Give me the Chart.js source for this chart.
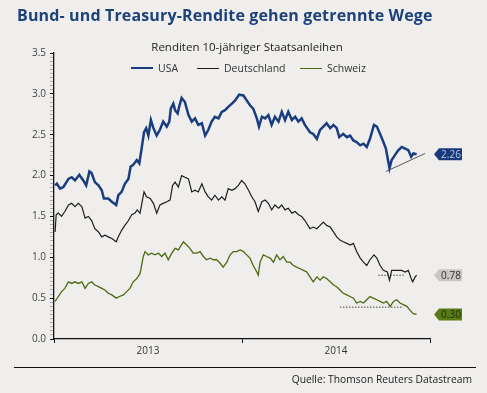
<!DOCTYPE html>
<html><head><meta charset="utf-8">
<script src="https://cdn.jsdelivr.net/npm/chart.js@4/dist/chart.umd.min.js"></script>
<style>
html,body{margin:0;padding:0;background:#efeeec;}
#wrap{position:relative;width:487px;height:393px;overflow:hidden;font-family:"Open Sans",sans-serif;}
canvas{position:absolute;left:0;top:0;}
#head{position:absolute;left:17px;top:4px;font-weight:bold;font-size:16px;letter-spacing:0.15px;color:#1d4179;white-space:nowrap;}
#sub{position:absolute;left:0;width:494px;text-align:center;top:39px;font-size:11.5px;color:#222;}
.lg{position:absolute;top:61px;font-size:10.5px;color:#333;display:flex;align-items:center;white-space:nowrap;}
.sw{display:inline-block;width:22px;margin-right:5px;}
#rule{position:absolute;left:14px;width:462px;top:367px;height:0;border-top:1.5px solid #111;}
#src{position:absolute;right:15px;top:372px;font-size:10.3px;color:#222;white-space:nowrap;}
</style></head>
<body>
<div id="wrap">
<canvas id="c" width="487" height="393"></canvas>
<div id="head">Bund- und Treasury-Rendite gehen getrennte Wege</div>
<div id="sub">Renditen 10-jähriger Staatsanleihen</div>
<div id="legend"></div>
<div id="rule"></div>
<div id="src">Quelle: Thomson Reuters Datastream</div>
</div>
<script>
// x values: weeks since 1 Jan 2013
const xTickWeeks = [0, 26, 52, 78, 104];
const xTickLabels = ['', '2013', '', '2014', ''];
const yTickValues = [0, 0.5, 1.0, 1.5, 2.0, 2.5, 3.0, 3.5];
const yMinorStep = 0.05;

const seriesNames = ['USA', 'Deutschland', 'Schweiz'];

const usaWeeks = [0.3,0.8,1.7,2.6,4.0,4.9,5.8,7.0,8.1,8.9,
9.8,10.4,11.3,12.3,13.2,13.8,15.0,16.0,17.2,17.8,
18.7,19.6,20.6,21.2,21.9,22.9,23.6,24.3,24.9,25.5,
26.1,26.8,27.5,28.4,29.3,30.2,31.2,31.9,32.3,33.0,
33.5,34.2,34.6,35.3,36.2,37.2,38.1,39.0,39.9,40.9,
41.8,42.7,43.6,44.5,45.5,46.4,47.3,48.2,49.2,50.1,
51.2,52.4,53.3,54.2,55.1,56.1,56.7,57.5,58.4,59.3,
60.2,61.1,62.1,63.0,63.9,64.8,65.8,66.7,67.6,68.5,
69.4,70.8,71.7,72.7,73.6,74.5,75.4,76.4,77.3,78.2,
78.9,80.0,81.0,81.9,82.8,83.7,84.7,85.6,86.5,87.4,
88.5,89.3,90.2,91.1,91.8,92.3,92.8,93.4,94.3,95.2,
96.2,97.1,98.0,98.8,99.4,100.3];
const usaYield = [1.88,1.90,1.84,1.86,1.96,1.98,1.94,2.01,1.94,1.88,
2.05,2.03,1.92,1.88,1.82,1.72,1.72,1.68,1.64,1.76,
1.80,1.90,1.96,2.11,2.13,2.19,2.15,2.35,2.53,2.58,
2.49,2.68,2.58,2.49,2.56,2.66,2.60,2.66,2.82,2.88,
2.80,2.76,2.84,2.95,2.90,2.74,2.66,2.70,2.62,2.64,
2.49,2.56,2.66,2.72,2.70,2.78,2.80,2.84,2.88,2.92,
2.99,2.98,2.92,2.86,2.82,2.70,2.60,2.72,2.70,2.74,
2.62,2.72,2.66,2.78,2.68,2.78,2.68,2.72,2.66,2.70,
2.62,2.53,2.51,2.45,2.56,2.60,2.64,2.58,2.62,2.58,
2.47,2.51,2.47,2.49,2.43,2.41,2.37,2.39,2.35,2.45,
2.62,2.60,2.51,2.41,2.33,2.21,2.09,2.19,2.25,2.31,
2.35,2.33,2.31,2.23,2.27,2.26];

const deWeeks = [0.3,0.6,1.2,2.1,3.0,4.0,4.9,5.8,6.7,7.7,
8.6,9.5,10.4,11.3,12.3,13.2,14.1,15.0,16.0,17.2,
17.8,18.7,19.6,20.6,21.5,22.4,23.0,23.8,24.9,25.6,
26.6,27.5,28.4,29.3,30.2,31.2,32.1,32.8,33.5,34.4,
35.3,36.2,37.2,38.1,39.0,39.9,40.9,41.8,42.7,43.6,
44.5,45.5,46.4,47.3,48.2,49.2,50.1,51.0,51.9,52.8,
53.8,54.7,55.6,56.5,57.5,58.4,59.3,60.2,61.1,62.1,
63.0,63.9,64.8,65.8,66.7,67.6,68.5,69.4,70.8,71.7,
72.7,73.6,74.5,75.4,76.4,77.3,78.2,79.1,80.0,81.0,
81.9,82.8,83.7,84.7,85.6,86.5,87.4,88.5,89.3,90.2,
91.1,92.2,92.8,93.4,94.3,95.2,96.2,97.1,98.0,98.8,
99.2,99.9,100.3];
const deYield = [1.31,1.52,1.54,1.50,1.56,1.64,1.66,1.62,1.66,1.62,
1.48,1.50,1.45,1.35,1.31,1.25,1.27,1.25,1.23,1.19,
1.25,1.33,1.39,1.45,1.52,1.54,1.58,1.54,1.80,1.74,
1.72,1.66,1.54,1.64,1.66,1.68,1.70,1.88,1.92,1.86,
2.00,1.98,1.96,1.80,1.82,1.80,1.90,1.80,1.74,1.70,
1.76,1.70,1.74,1.70,1.84,1.82,1.84,1.88,1.94,1.90,
1.82,1.74,1.68,1.56,1.68,1.70,1.66,1.58,1.64,1.60,
1.64,1.58,1.60,1.54,1.56,1.52,1.50,1.45,1.35,1.37,
1.35,1.39,1.43,1.39,1.37,1.31,1.25,1.21,1.19,1.17,
1.15,1.17,1.07,0.99,0.94,0.90,0.97,1.03,0.99,0.90,
0.84,0.82,0.72,0.84,0.84,0.84,0.84,0.82,0.84,0.74,
0.70,0.76,0.78];

const chWeeks = [0.3,1.2,2.1,3.0,4.0,4.9,5.8,6.7,7.7,8.6,
9.5,10.4,11.3,12.3,13.2,14.1,15.0,16.0,17.2,18.1,
19.2,20.1,21.0,21.9,22.9,23.8,24.7,25.2,26.1,27.0,
27.9,28.9,29.8,30.7,31.6,32.6,33.5,34.4,35.8,36.7,
37.6,38.5,39.5,40.4,41.3,42.2,43.2,44.1,45.0,45.9,
46.8,47.8,48.7,49.6,50.5,51.5,52.4,53.3,54.2,55.1,
56.1,56.5,57.0,57.9,58.8,59.8,60.7,61.6,62.5,63.4,
64.4,65.3,66.2,67.1,68.1,69.0,69.9,70.8,71.7,72.7,
73.6,74.5,75.4,76.4,77.3,78.2,79.1,80.0,81.0,81.9,
82.8,83.7,84.7,85.6,86.5,87.4,88.3,89.3,90.2,91.1,
92.0,93.0,93.9,94.8,95.7,96.6,97.6,98.5,99.4,100.3];
const chYield = [0.46,0.52,0.58,0.62,0.70,0.68,0.70,0.68,0.70,0.62,
0.68,0.70,0.66,0.64,0.62,0.60,0.56,0.54,0.50,0.52,
0.54,0.58,0.62,0.70,0.74,0.80,1.01,1.07,1.03,1.05,
1.03,1.05,1.01,1.05,0.97,1.05,1.11,1.09,1.19,1.15,
1.11,1.05,1.05,1.07,1.01,0.97,0.99,0.97,0.97,0.93,
0.88,0.94,1.03,1.07,1.07,1.09,1.07,1.03,0.99,0.90,
0.82,0.78,0.94,1.03,1.01,0.99,0.94,1.03,0.97,1.01,
0.94,0.94,0.90,0.88,0.86,0.84,0.82,0.76,0.70,0.76,
0.72,0.76,0.74,0.70,0.66,0.64,0.60,0.56,0.54,0.52,
0.50,0.44,0.46,0.44,0.48,0.52,0.50,0.48,0.46,0.44,
0.46,0.40,0.46,0.48,0.44,0.42,0.40,0.35,0.31,0.30];

// annotation lines (trend / support levels)
const usaTrendWeeks = [91.8, 102.6];
const usaTrendYield = [2.05, 2.27];
const deLevelWeeks = [89.7, 96.7];
const deLevelYield = [0.78, 0.78];
const chLevelWeeks = [79.1, 96.6];
const chLevelYield = [0.39, 0.39];

const toPts = (xs, ys) => xs.map((x, i) => ({x: x, y: ys[i]}));

const colors = {
  usa: '#1a3d7f', de: '#1e1e1e', ch: '#4b6912'
};
const tagStyles = [
  {fill: '#183a7a', text: '#b9c6e2'},
  {fill: '#c9c7c4', text: '#333333'},
  {fill: '#5a7c18', text: '#1f2c06'}
];

const datasets = [
  {label: seriesNames[0], data: toPts(usaWeeks, usaYield), borderColor: colors.usa, backgroundColor: colors.usa, borderWidth: 2.5, legendThick: 2.5},
  {label: seriesNames[1], data: toPts(deWeeks, deYield), borderColor: colors.de, backgroundColor: colors.de, borderWidth: 1.2, legendThick: 1},
  {label: seriesNames[2], data: toPts(chWeeks, chYield), borderColor: colors.ch, backgroundColor: colors.ch, borderWidth: 1.3, legendThick: 1},
  {label: '', data: toPts(usaTrendWeeks, usaTrendYield), borderColor: '#333', borderWidth: 0.8, helper: true},
  {label: '', data: toPts(deLevelWeeks, deLevelYield), borderColor: '#444', borderWidth: 1, borderDash: [1.5, 1.5], helper: true},
  {label: '', data: toPts(chLevelWeeks, chLevelYield), borderColor: '#444', borderWidth: 1, borderDash: [1.5, 1.5], helper: true}
];
datasets.forEach(d => { d.pointRadius = 0; d.tension = 0; d.fill = false; });

// HTML legend
const legendPos = [131, 197, 300];
const legendEl = document.getElementById('legend');
datasets.filter(d => !d.helper).forEach((d, i) => {
  const item = document.createElement('div');
  item.className = 'lg';
  item.style.left = legendPos[i] + 'px';
  const sw = document.createElement('span');
  sw.className = 'sw';
  sw.style.borderTop = d.legendThick + 'px solid ' + d.borderColor;
  item.appendChild(sw);
  item.appendChild(document.createTextNode(d.label));
  legendEl.appendChild(item);
});

const isMajor = v => Math.abs(v * 2 - Math.round(v * 2)) < 1e-6;

const valueTags = {
  id: 'valueTags',
  afterDatasetsDraw(chart) {
    const {ctx, chartArea, scales} = chart;
    ctx.save();
    ctx.font = '10px "Open Sans"';
    ctx.textAlign = 'center';
    ctx.textBaseline = 'middle';
    [0, 1, 2].forEach(i => {
      const data = chart.data.datasets[i].data;
      const v = data[data.length - 1].y;
      const y = scales.y.getPixelForValue(v);
      const x0 = chartArea.right + 4;
      const h = 6;
      ctx.fillStyle = tagStyles[i].fill;
      ctx.beginPath();
      ctx.moveTo(x0, y);
      ctx.lineTo(x0 + 5, y - h);
      ctx.lineTo(x0 + 28, y - h);
      ctx.lineTo(x0 + 28, y + h);
      ctx.lineTo(x0 + 5, y + h);
      ctx.closePath();
      ctx.fill();
      ctx.fillStyle = tagStyles[i].text;
      ctx.fillText(v.toFixed(2), x0 + 17, y + 0.5);
    });
    ctx.restore();
  }
};

new Chart(document.getElementById('c'), {
  type: 'line',
  data: {datasets: datasets},
  options: {
    responsive: false,
    animation: false,
    layout: {padding: {top: 53, right: 57, bottom: 34, left: 0}},
    plugins: {legend: {display: false}, tooltip: {enabled: false}},
    scales: {
      x: {
        type: 'linear', min: 0, max: 104,
        afterFit(s) { s.height = 20; },
        afterBuildTicks(s) { s.ticks = xTickWeeks.map(v => ({value: v})); },
        grid: {
          drawOnChartArea: false, tickLength: 4,
          tickColor: c => (xTickLabels[xTickWeeks.indexOf(c.tick ? c.tick.value : -1)] ? 'rgba(0,0,0,0)' : '#111')
        },
        border: {color: '#111', width: 1.3},
        ticks: {
          autoSkip: false, maxRotation: 0, padding: 2, color: '#333',
          font: {family: 'Open Sans', size: 10},
          callback: v => xTickLabels[xTickWeeks.indexOf(v)] || ''
        }
      },
      y: {
        min: 0, max: 3.5,
        afterFit(s) { s.width = 54; },
        afterBuildTicks(s) {
          const n = Math.round((yTickValues[yTickValues.length - 1] - yTickValues[0]) / yMinorStep);
          const t = [];
          for (let i = 0; i <= n; i++) t.push({value: Math.round((yTickValues[0] + i * yMinorStep) * 100) / 100});
          s.ticks = t;
        },
        grid: {
          drawOnChartArea: false, tickLength: 4,
          tickColor: c => (c.tick && isMajor(c.tick.value) ? '#111' : '#9a9a9a'),
          tickWidth: c => (c.tick && isMajor(c.tick.value) ? 1 : 0.8)
        },
        border: {color: '#111', width: 1.3},
        ticks: {
          autoSkip: false, padding: 4, color: '#444',
          font: {family: 'Open Sans', size: 10},
          callback: v => (isMajor(v) && yTickValues.some(t => Math.abs(t - v) < 1e-6) ? v.toFixed(1) : '')
        }
      }
    }
  },
  plugins: [valueTags]
});
</script>
</body></html>
